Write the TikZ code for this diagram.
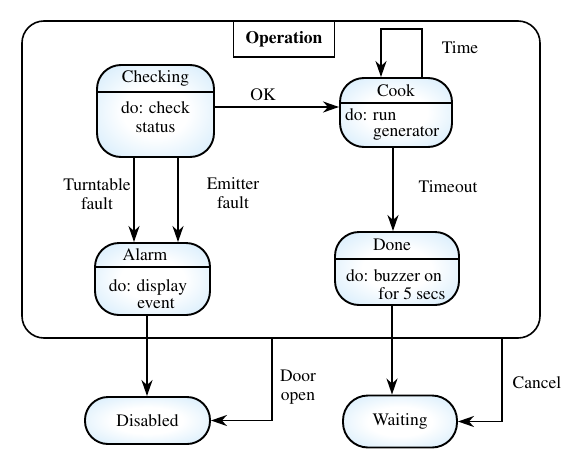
\documentclass[tikz,border=0pt]{standalone}
\usepackage[T1]{fontenc}
\usepackage{mathptmx}
\usetikzlibrary{arrows.meta,calc}
\definecolor{stateblue}{RGB}{196,228,250}
\pgfdeclareradialshading{stateshade}{\pgfpoint{0bp}{0bp}}{color(0bp)=(white); color(14bp)=(white); color(42bp)=(stateblue); color(50bp)=(stateblue)}
\tikzset{
  x=1pt,y=-1pt,
  every node/.style={font=\fontsize{17.5}{19}\selectfont},
  statebox/.style={draw=black,line width=1.9pt,rectangle,rounded corners=24pt,
     shading=stateshade,inner sep=0pt},
  pill/.style={statebox,rounded corners=23pt},
  divider/.style={line width=1.5pt},
  arr/.style={line width=1.8pt,-{Stealth[length=16pt,width=11pt,inset=5pt]}},
  lbl/.style={align=center,inner sep=0pt},
}
\begin{document}
\begin{tikzpicture}
\useasboundingbox (0,0) rectangle (578,466);
% outer composite state
\node[draw,line width=1.6pt,rectangle,rounded corners=22pt,minimum width=518pt,minimum height=317pt,inner sep=0pt] (op) at (281,179.5) {};
\node[draw,fill=white,line width=1.6pt,rectangle,minimum width=101pt,minimum height=36pt,inner sep=0pt,font=\fontsize{17.5}{19}\selectfont\bfseries] (optitle) at (284,39) {Operation};
% Checking
\node[statebox,minimum width=117pt,minimum height=92pt] (check) at (155.5,111) {};
\draw[divider] (check.west |- 0,92) coordinate (chkL) -- (chkL -| check.east);
\node[lbl] (checkT) at (155.5,78) {Checking};
\node[lbl] (checkB) at (155.5,117) {do: check\\status};
% Cook
\node[statebox,minimum width=112pt,minimum height=69pt] (cook) at (396,112.5) {};
\draw[divider] (cook.west |- 0,103) coordinate (ckL) -- (ckL -| cook.east);
\node[lbl] (cookT) at (396,91) {Cook};
\node[lbl,anchor=west] (cookB1) at (345,115) {do: run};
\node[lbl,anchor=west] (cookB2) at (373,133) {generator};
% Alarm
\node[statebox,minimum width=115pt,minimum height=72pt] (alarm) at (152.5,279) {};
\draw[divider] (alarm.west |- 0,267) coordinate (alL) -- (alL -| alarm.east);
\node[lbl] (alarmT) at (145,255) {Alarm};
\node[lbl] (alarmB1) at (148,287) {do: display};
\node[lbl] (alarmB2) at (156,304) {event};
% Done
\node[statebox,minimum width=124pt,minimum height=73pt] (done) at (397,268.5) {};
\draw[divider] (done.west |- 0,259) coordinate (dnL) -- (dnL -| done.east);
\node[lbl] (doneT) at (392,245) {Done};
\node[lbl] (doneB1) at (394,276) {do: buzzer on};
\node[lbl] (doneB2) at (412,294) {for 5 secs};
% Disabled and Waiting
\node[pill,minimum width=125pt,minimum height=47pt] (dis) at (147.5,420.5) {Disabled};
\node[pill,minimum width=114pt,minimum height=52pt,rounded corners=25pt] (wait) at (400,421.5) {Waiting};
% transitions
\draw[arr] ([yshift=4pt]check.east) coordinate (okA) -- (okA -| cook.west);
\node[lbl] (okL) at (263,95) {OK};
\draw[arr] ([xshift=26pt]cook.north) -- ++(0,-48) -| ([xshift=-15pt]cook.north);
\node[lbl] (timeL) at (460,48) {Time};
\draw[arr] ([xshift=-21.5pt]check.south) coordinate (t1) -- (t1 |- alarm.north);
\draw[arr] ([xshift=22.5pt]check.south) coordinate (t2) -- (t2 |- alarm.north);
\node[lbl] (ttL) at (97,194) {Turntable\\fault};
\node[lbl] (emL) at (233,193) {Emitter\\fault};
\draw[arr] ([xshift=-3pt]cook.south) coordinate (c1) -- (c1 |- done.north);
\node[lbl] (toL) at (448,187) {Timeout};
\draw[arr] ([xshift=-5.5pt]alarm.south) coordinate (a1) -- (a1 |- dis.north);
\draw[arr] ([xshift=-5pt]done.south) coordinate (d1) -- (d1 |- wait.north);
\draw[arr] ([xshift=-9pt]op.south) |- (dis.east);
\node[lbl] (doorL) at (298,387) {Door\\open};
\draw[arr] ([xshift=221pt]op.south) |- (wait.east);
\node[lbl] (canL) at (537,383) {Cancel};
\end{tikzpicture}
\end{document}
